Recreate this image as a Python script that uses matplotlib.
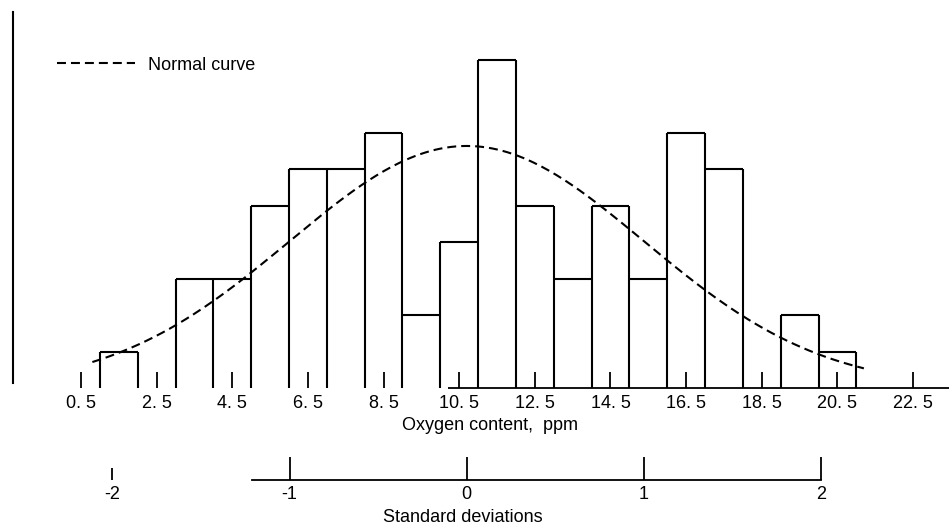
import numpy as np
import matplotlib.pyplot as plt

plt.rcParams['font.family'] = ['Liberation Sans', 'DejaVu Sans']

# histogram: 1 ppm bins from 1 to 21
bin_left = list(range(1, 21))
counts = [1, 0, 3, 3, 5, 6, 6, 7, 2, 4, 9, 5, 3, 5, 3, 7, 6, 0, 2, 1]

tick_pos = [0.5, 2.5, 4.5, 6.5, 8.5, 10.5, 12.5, 14.5, 16.5, 18.5, 20.5, 22.5]
tick_labels = ["0. 5", "2. 5", "4. 5", "6. 5", "8. 5", "10. 5",
               "12. 5", "14. 5", "16. 5", "18. 5", "20. 5", "22. 5"]

sd_ticks = [-2, -1, 0, 1, 2]
sd_labels = ["-2", "-1", "0", "1", "2"]

# normal curve parameters (ppm)
mean_ppm = 10.70
sd_ppm = 4.685
curve_from, curve_to = 0.8, 21.2

W, H = 949, 525
fig = plt.figure(figsize=(W / 100, H / 100), dpi=100)

ax = fig.add_axes([13 / W, (H - 388) / H, 936 / W, (388 - 12) / H])
xlim = (-1.298, 23.45)
ax.set_xlim(xlim)
ax.set_ylim(0, 376 / 36.44)

# bar outlines (no bottom edges, like the original drawing)
edges = bin_left + [bin_left[-1] + 1]
edge_h = []
for i, e in enumerate(edges):
    left = counts[i - 1] if i > 0 else 0
    right = counts[i] if i < len(counts) else 0
    edge_h.append(max(left, right))
ax.vlines(edges, 0, edge_h, color='black', lw=1.5)
tops = [(b, c) for b, c in zip(bin_left, counts) if c > 0]
ax.hlines([c for b, c in tops], [b for b, c in tops], [b + 1 for b, c in tops],
          color='black', lw=1.5)

# partial baseline
ax.hlines(0, 10.2, xlim[1], color='black', lw=1.3, clip_on=False)

# normal curve
n = sum(counts)
xs = np.linspace(curve_from, curve_to, 300)
ys = n / (sd_ppm * np.sqrt(2 * np.pi)) * np.exp(-0.5 * ((xs - mean_ppm) / sd_ppm) ** 2)
ax.plot(xs, ys, color='black', lw=1.5, dashes=(4.3, 2.4), label='Normal curve')

for s in ['top', 'right', 'bottom']:
    ax.spines[s].set_visible(False)
ax.spines['left'].set_linewidth(1.5)
ax.spines['left'].set_bounds(0.15, 376 / 36.44)
ax.set_yticks([])
ax.set_xticks(tick_pos, tick_labels)
ax.tick_params(axis='x', direction='in', length=11.5, width=1.3, pad=5, labelsize=13)
ax.patch.set_visible(False)

ax.legend(loc='center left', bbox_to_anchor=(57 / W, 1 - 65 / H), bbox_transform=fig.transFigure,
          frameon=False, borderpad=0, borderaxespad=0, handlelength=4.3, handletextpad=0.72,
          fontsize=13)

fig.text(490 / W, 1 - 425 / H, 'Oxygen content,  ppm', ha='center', va='center', fontsize=13)

# standard deviation scale
sax = fig.add_axes([13 / W, (H - 479.5) / H, 936 / W, 0.04])
sax.set_xlim((xlim[0] - mean_ppm) / sd_ppm, (xlim[1] - mean_ppm) / sd_ppm)
sax.patch.set_visible(False)
for s in ['top', 'right', 'left']:
    sax.spines[s].set_visible(False)
sax.spines['bottom'].set_linewidth(1.3)
sax.spines['bottom'].set_bounds(-1.21, 2)
sax.set_yticks([])
sax.set_xticks(sd_ticks, sd_labels)
sax.tick_params(axis='x', direction='in', length=16.5, width=1.3, pad=5, labelsize=13)
sax.xaxis.get_major_ticks()[0].tick1line.set_markersize(8.6)

fig.text(463 / W, 1 - 517 / H, 'Standard deviations', ha='center', va='center', fontsize=13)

fig.savefig('out.png', dpi=100)
